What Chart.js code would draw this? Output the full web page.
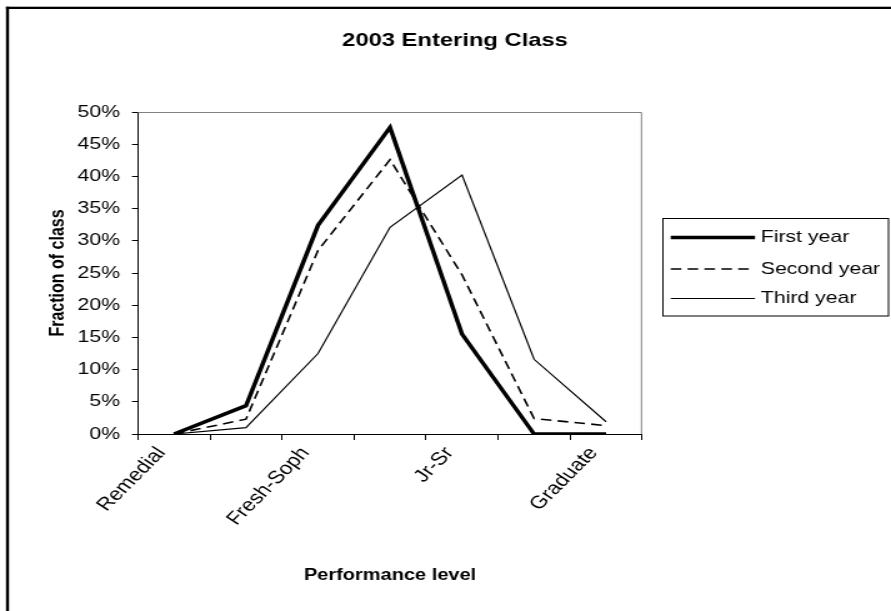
<!DOCTYPE html>
<html lang="en">
<head>
<meta charset="UTF-8" />
<title>2003 Entering Class</title>
<script src="https://cdn.jsdelivr.net/npm/chart.js"></script>
<style>
  html, body { margin: 0; padding: 0; background: #fff; overflow: hidden; }
  canvas { display: block; }
</style>
</head>
<body>
<!-- the original chart is a bit wider than its fonts, so the canvas is stretched sideways -->
<canvas id="classChart" width="713" height="611" style="width:891px;height:611px"></canvas>
<script>
  // Excel only printed every other category name
  const levels = ['Remedial', '', 'Fresh-Soph', '', 'Jr-Sr', '', 'Graduate'];
  const seriesNames = ['First year', 'Second year', 'Third year'];
  const firstYear  = [0, 4.4, 32.4, 47.6, 15.5, 0, 0];
  const secondYear = [0, 2.3, 28.5, 42.6, 24.7, 2.4, 1.3];
  const thirdYear  = [0, 1.0, 12.5, 32.1, 40.2, 11.6, 1.9];
  const yMax = 50, yStep = 5;

  const FONT = "'Liberation Sans', Arial, sans-serif";
  Chart.defaults.font.family = FONT;
  Chart.defaults.color = '#000';

  const frame = {
    id: 'frame',
    beforeDatasetsDraw(chart) {
      const { ctx, chartArea: a } = chart;
      ctx.save();
      ctx.strokeStyle = '#808080';
      ctx.lineWidth = 1;
      ctx.beginPath();
      ctx.moveTo(a.left, a.top + 0.5);
      ctx.lineTo(a.right - 0.5, a.top + 0.5);
      ctx.lineTo(a.right - 0.5, a.bottom);
      ctx.stroke();
      ctx.restore();
    },
    afterDraw(chart) {
      const { ctx } = chart;
      ctx.save();
      // outer border, only top and left fall inside the picture
      ctx.fillStyle = '#000';
      ctx.fillRect(4.8, 6.7, chart.width, 2.3);
      ctx.fillRect(4.8, 6.7, 2.4, chart.height);

      // legend
      ctx.strokeStyle = '#000';
      ctx.lineWidth = 1;
      ctx.strokeRect(530.5, 218.5, 180.5, 97.5);
      const rows = [237.5, 269, 298.5];
      ctx.font = '17px ' + FONT;
      ctx.textBaseline = 'middle';
      chart.data.datasets.forEach((ds, i) => {
        ctx.beginPath();
        ctx.setLineDash(ds.borderDash || []);
        ctx.lineWidth = ds.borderWidth;
        ctx.moveTo(536.7, rows[i]);
        ctx.lineTo(604.2, rows[i]);
        ctx.stroke();
        ctx.setLineDash([]);
        ctx.fillStyle = '#000';
        ctx.fillText(ds.label, 608.8, rows[i]);
      });
      ctx.restore();
    }
  };

  new Chart(document.getElementById('classChart'), {
    type: 'line',
    data: {
      labels: levels,
      datasets: [
        { label: seriesNames[0], data: firstYear, borderColor: '#000', borderWidth: 3.5, yAxisID: 'y' },
        { label: seriesNames[1], data: secondYear, borderColor: '#000', borderWidth: 1.6, borderDash: [8.5, 5], yAxisID: 'y' },
        { label: seriesNames[2], data: thirdYear, borderColor: '#000', borderWidth: 1.2, yAxisID: 'y' }
      ]
    },
    options: {
      responsive: false,
      animation: false,
      events: [],
      elements: { point: { radius: 0 }, line: { tension: 0 } },
      layout: { padding: { left: 15.2, right: 0, top: 0, bottom: 0 } },
      plugins: {
        legend: { display: false },
        tooltip: { enabled: false },
        title: {
          display: true,
          text: '2003 Entering Class',
          color: '#000',
          font: { size: 19, weight: 'bold' },
          padding: { top: 29.5, bottom: 112 - 29.5 - 22.8 }
        }
      },
      scales: {
        x: {
          offset: true,
          grid: { offset: true, drawOnChartArea: false, color: '#000', tickLength: 6 },
          border: { color: '#000', width: 1 },
          ticks: {
            autoSkip: false,
            minRotation: 51,
            maxRotation: 51,
            labelOffset: -10,
            padding: 3,
            font: { size: 18 }
          },
          title: {
            display: true,
            text: 'Performance level',
            font: { size: 16, weight: 'bold' },
            padding: { top: 0, bottom: 25.4 }
          },
          afterFit: s => { s.height = 611 - 434; }
        },
        y: {
          min: 0,
          max: yMax,
          grid: { drawOnChartArea: false, color: '#000', tickLength: 4.8 },
          border: { color: '#000', width: 1 },
          ticks: {
            stepSize: yStep,
            padding: 9.6,
            font: { size: 17 },
            callback: v => v + '%'
          },
          title: {
            display: true,
            text: 'Fraction of class',
            font: { size: 16, weight: 'bold' },
            padding: { top: 21.9, bottom: 0 }
          },
          afterFit: s => { s.width = 110.4 - 15.2; }
        },
        // empty axis that only holds the room where the legend is drawn
        legendRoom: {
          type: 'linear',
          position: 'right',
          display: true,
          grid: { display: false, drawTicks: false },
          border: { display: false },
          ticks: { display: false },
          afterFit: s => { s.width = 713 - 513.8; }
        }
      }
    },
    plugins: [frame]
  });
</script>
</body>
</html>
